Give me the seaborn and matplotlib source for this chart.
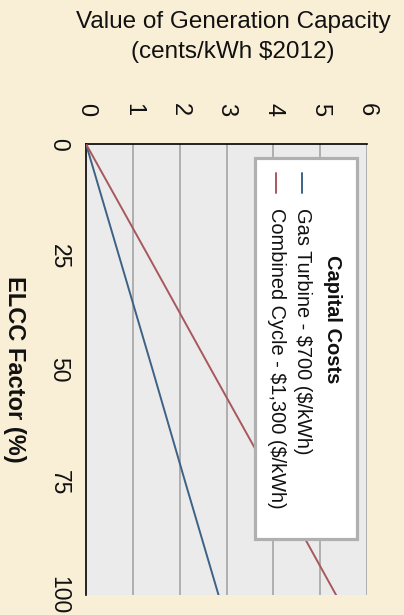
import pandas as pd
import seaborn as sns
import matplotlib
matplotlib.use('Agg')
import matplotlib.pyplot as plt
from matplotlib.patches import Rectangle

# ------------------------------ data ------------------------------
elcc = [0, 25, 50, 75, 100]
gas_turbine = [0, 0.71, 1.42, 2.12, 2.83]
combined_cycle = [0, 1.34, 2.67, 4.01, 5.34]
series_names = ['Gas Turbine - $700 ($/kWh)', 'Combined Cycle - $1,300 ($/kWh)']
value_ticks = [0, 1, 2, 3, 4, 5, 6]
elcc_ticks = [0, 25, 50, 75, 100]

df = pd.DataFrame({
    'elcc': elcc * 2,
    'value': gas_turbine + combined_cycle,
    'series': [series_names[0]] * len(elcc) + [series_names[1]] * len(elcc),
})

cream = '#F9EFD7'
colors = {series_names[0]: '#3D6285', series_names[1]: '#A8585C'}

sns.set_style('white', {'axes.facecolor': '#EBEBEB', 'figure.facecolor': cream})
plt.rcParams['font.family'] = ['Liberation Sans', 'DejaVu Sans']
plt.rcParams['text.parse_math'] = False

# ------------------------------ plot (chart is turned 90 deg clockwise) ------------------------------
fig = plt.figure(figsize=(4.04, 6.15), dpi=100)
ax = fig.add_axes([0.2129, 0.0325, 0.6955, 0.7334])

sns.lineplot(data=df, x='value', y='elcc', hue='series', palette=colors, orient='y',
             linewidth=1.4, legend=False, ax=ax, zorder=4)

ax.set_xlim(0, 6)
ax.set_ylim(100, 0)
ax.set_xticks(value_ticks)
ax.set_yticks(elcc_ticks)
ax.xaxis.tick_top()
ax.xaxis.set_label_position('top')

for v in value_ticks[1:]:
    ax.axvline(v, color='#AAAAAA', lw=1.3, zorder=1)

for s in ['right', 'bottom']:
    ax.spines[s].set_visible(False)
for s in ['top', 'left']:
    ax.spines[s].set_color('black')
    ax.spines[s].set_linewidth(1.2)

ax.tick_params(axis='x', length=0, pad=25, labelsize=17, colors='#111111')
ax.tick_params(axis='y', length=0, pad=19.5, labelsize=16.5, colors='#111111')
plt.setp(ax.get_xticklabels(), rotation=-90, va='center')
plt.setp(ax.get_yticklabels(), rotation=-90, ha='center', va='center')

ax.set_xlabel('Value of Generation Capacity\n(cents/kWh $2012)', fontsize=17.5,
              linespacing=1.45, color='#111111')
ax.xaxis.set_label_coords(0.523, 1.237)
ax.xaxis.label.set_verticalalignment('center')

ax.set_ylabel('ELCC Factor (%)', fontsize=17, fontweight='bold', rotation=-90,
              ha='center', va='center', color='#111111')
ax.yaxis.set_label_coords(-0.256, 0.5)

# ------------------------------ legend, drawn turned like the chart ------------------------------
ax.add_patch(Rectangle((0.601, 0.124), 0.363, 0.845, transform=ax.transAxes,
                       facecolor='white', edgecolor='#B0B0B0', lw=2.3, zorder=5, clip_on=False))
ax.text(0.879, 0.754, 'Capital Costs', transform=ax.transAxes, rotation=-90,
        rotation_mode='anchor', ha='left', va='center', fontsize=14.5, fontweight='bold',
        color='#111111', zorder=6)
for name, x in zip(series_names, [0.769, 0.677]):
    ax.plot([x, x], [0.936, 0.891], transform=ax.transAxes, color=colors[name], lw=1.4,
            zorder=6, clip_on=False)
    ax.text(x, 0.858, name, transform=ax.transAxes, rotation=-90, rotation_mode='anchor',
            ha='left', va='center', fontsize=14.4, color='#111111', zorder=6)

fig.savefig('out.png', dpi=100, facecolor=fig.get_facecolor())
